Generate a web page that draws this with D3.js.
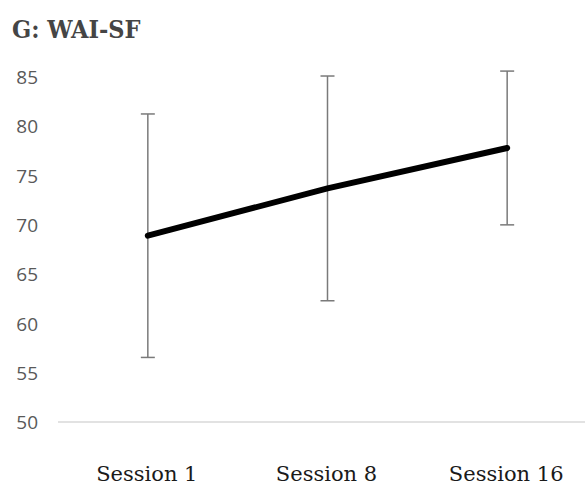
<!DOCTYPE html>
<html>
<head>
<meta charset="utf-8">
<script src="https://cdn.jsdelivr.net/npm/d3@7"></script>
<style>
  html, body { margin: 0; padding: 0; background: #fff; }
  svg { display: block; }
</style>
</head>
<body>
<svg id="chart" width="585" height="485"></svg>
<script>
const title = "G: WAI-SF";
const categories = ["Session 1", "Session 8", "Session 16"];
const means = [68.9, 73.7, 77.8];
const errors = [12.35, 11.4, 7.8];
const yTicks = [50, 55, 60, 65, 70, 75, 80, 85];

const svg = d3.select("#chart");
const x = d3.scaleBand().domain(categories).range([58, 597]).paddingInner(0).paddingOuter(0);
const y = d3.scaleLinear().domain([50, 85]).range([422, 77]);
const cx = c => x(c) + x.bandwidth() / 2;

// title
svg.append("text")
  .attr("x", 12).attr("y", 38)
  .attr("font-family", "DejaVu Serif")
  .attr("font-stretch", "condensed")
  .attr("font-size", 25)
  .attr("font-weight", "bold")
  .attr("fill", "#454545")
  .text(title);

// y axis (labels only)
const yAxis = d3.axisLeft(y).tickValues(yTicks).tickSize(0).tickPadding(0);
const gy = svg.append("g").attr("transform", "translate(38,0)").call(yAxis);
gy.select(".domain").remove();
gy.selectAll("text")
  .attr("font-family", "Open Sans")
  .attr("font-size", 19)
  .attr("fill", "#595959")
  .attr("dy", "0.35em");

// x axis line
svg.append("line")
  .attr("x1", 58).attr("x2", 585)
  .attr("y1", y(50)).attr("y2", y(50))
  .attr("stroke", "#d9d9d9").attr("stroke-width", 1.5);

// x labels
const xAxis = d3.axisBottom(x).tickSize(0).tickPadding(0);
const gx = svg.append("g").attr("transform", "translate(-1,481)").call(xAxis);
gx.select(".domain").remove();
gx.selectAll("text")
  .attr("font-family", "DejaVu Serif")
  .attr("font-size", 21)
  .attr("fill", "#1a1a1a")
  .attr("dy", 0);

// error bars
const eb = svg.append("g").attr("stroke", "#7a7a7a").attr("stroke-width", 1.5);
categories.forEach((c, i) => {
  const top = y(means[i] + errors[i]), bot = y(means[i] - errors[i]);
  eb.append("line").attr("x1", cx(c)).attr("x2", cx(c)).attr("y1", top).attr("y2", bot);
  eb.append("line").attr("x1", cx(c) - 7).attr("x2", cx(c) + 7).attr("y1", top).attr("y2", top);
  eb.append("line").attr("x1", cx(c) - 7).attr("x2", cx(c) + 7).attr("y1", bot).attr("y2", bot);
});

// mean line
const line = d3.line().x((d, i) => cx(categories[i])).y(d => y(d));
svg.append("path")
  .datum(means)
  .attr("d", line)
  .attr("fill", "none")
  .attr("stroke", "#000")
  .attr("stroke-width", 6)
  .attr("stroke-linecap", "round");
</script>
</body>
</html>
